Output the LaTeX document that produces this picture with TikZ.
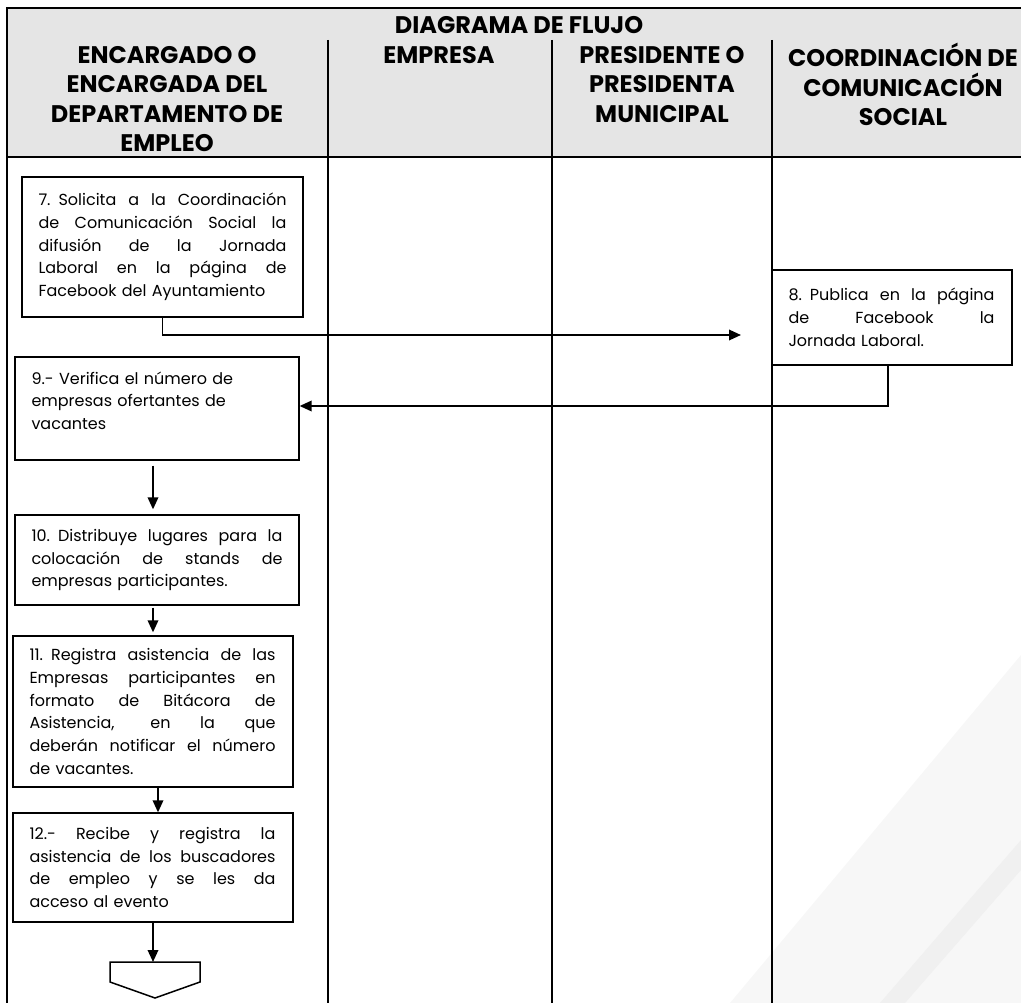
\documentclass[tikz,border=0pt]{standalone}
\usepackage{fontspec}
\usepackage{graphicx}
\setmainfont{Poppins}
\usetikzlibrary{arrows.meta}
\newcommand{\W}{100pt}
\newsavebox{\jbox}
\newcommand{\jsp}{\spaceskip=0.27em plus 3em minus 0.12em\relax}
\newcommand{\jl}[1]{\leavevmode\sbox{\jbox}{\jsp #1}%
  \ifdim\wd\jbox>\W\relax\resizebox{\W}{\height}{\usebox{\jbox}}%
  \else\hbox to \W{\jsp #1}\fi}
\begin{document}
\begin{tikzpicture}[x=1pt,y=-1pt,
  hdr/.style={font=\bfseries\fontsize{24}{29.5}\selectfont, align=center, inner sep=0pt, anchor=north},
  stepbox/.style={draw, line width=1.3pt, font=\fontsize{16}{22.7}\selectfont, align=left, inner xsep=16.5pt, inner ysep=0pt},
  flow/.style={line width=1.8pt, -{Triangle[length=12pt,width=10.5pt]}},
  grid/.style={line width=1.3pt}
]
\useasboundingbox (0,0) rectangle (1021,1003);
% watermark
\fill[black!3] (1021,655) -- (1021,1003) -- (730,1003) -- cycle;
\fill[black!6] (1021,840) -- (1021,870) -- (905,1003) -- (880,1003) -- cycle;
% header
\fill[gray!20] (7,8) rectangle (1021,157);
\draw[grid] (1021,8) -- (7,8) -- (7,1003);
\draw[grid] (7,157) -- (1021,157);
\draw[grid] (328,40) -- (328,1003);
\draw[grid] (552,40) -- (552,1003);
\draw[grid] (772,40) -- (772,1003);
\node[hdr] (title) at (519,13) {\rule{0pt}{20pt}DIAGRAMA DE FLUJO};
\node[hdr] (h1) at (167,43) {\rule{0pt}{20pt}ENCARGADO O\\ENCARGADA DEL\\DEPARTAMENTO DE\\EMPLEO};
\node[hdr] (h2) at (439,43) {\rule{0pt}{20pt}EMPRESA};
\node[hdr] (h3) at (662,43) {\rule{0pt}{20pt}PRESIDENTE O\\PRESIDENTA\\MUNICIPAL};
\node[hdr] (h4) at (903,43) {\rule{0pt}{20pt}COORDINACIÓN DE\\COMUNICACIÓN\\SOCIAL};
% boxes
\node[stepbox, text width=248pt, minimum height=140pt] (b7) at (162.5,247)
 {\renewcommand{\W}{248pt}\jl{7. Solicita a la Coordinación}\\\jl{de Comunicación Social la}\\\jl{difusión de la Jornada}\\\jl{Laboral en la página de}\\Facebook del Ayuntamiento};
\node[stepbox, line width=1.8pt, text width=207pt, minimum height=95pt] (b8) at (892,317.5)
 {\renewcommand{\W}{206pt}\jl{8. Publica en la página}\\\jl{de Facebook la}\\Jornada Laboral.};
\node[stepbox, text width=251pt, minimum height=103pt] (b9) at (157,408.5)
 {9.- Verifica el número de\\empresas ofertantes de\\vacantes\rule[-16pt]{0pt}{16pt}};
\node[stepbox, text width=251pt, minimum height=90pt] (b10) at (157,560)
 {\renewcommand{\W}{251pt}\jl{10. Distribuye lugares para la}\\\jl{colocación de stands de}\\empresas participantes.};
\node[stepbox, text width=247pt, minimum height=151pt] (b11) at (153,711.5)
 {\renewcommand{\W}{246pt}\jl{11. Registra asistencia de las}\\\jl{Empresas participantes en}\\\jl{formato de Bitácora de}\\\jl{Asistencia, en la que}\\\jl{deberán notificar el número}\\de vacantes.};
\node[stepbox, text width=247pt, minimum height=109pt] (b12) at (153,867.5)
 {\renewcommand{\W}{246pt}\jl{12.- Recibe y registra la}\\\jl{asistencia de los buscadores}\\\jl{de empleo y se les da}\\acceso al evento};
% off-page connector
\coordinate (conn) at (155,962);
\draw[line width=1.5pt, line join=miter] (110,962) -- (200,962) -- (200,982) -- (155,998) -- (110,982) -- cycle;
% connectors
\coordinate (e78) at (741,335);
\draw[flow] (b7.south) |- (e78);
\draw[flow] ([xshift=-4pt]b8.south) |- ([yshift=2.5pt]b9.east);
\draw[flow, shorten <=5pt, shorten >=5pt] ([xshift=-4pt]b9.south) -- ([xshift=-4pt]b10.north);
\draw[flow, shorten <=2pt, shorten >=3pt] ([xshift=-4pt]b10.south) -- ([xshift=-4pt]b10.south |- b11.north);
\draw[flow] ([xshift=5pt]b11.south) -- ([xshift=5pt]b12.north);
\draw[flow] (b12.south) -- (b12.south |- conn);
\end{tikzpicture}
\end{document}
